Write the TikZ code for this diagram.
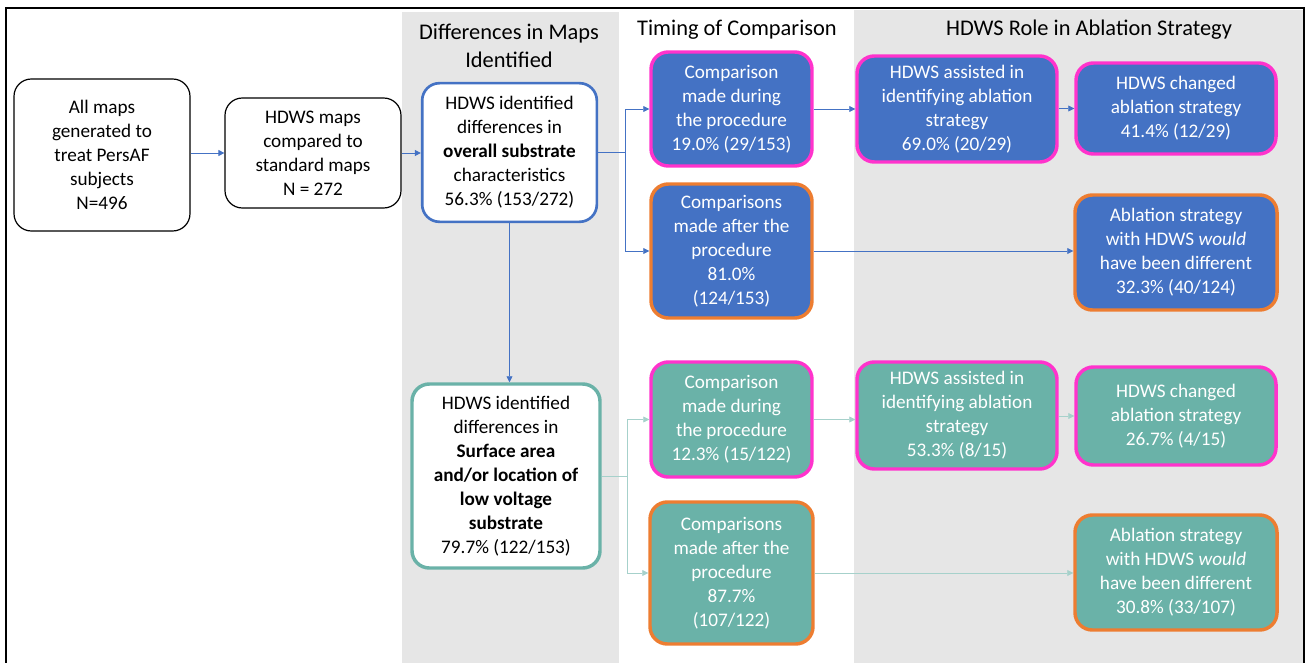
\documentclass[tikz,border=0pt]{standalone}
\usepackage{fontspec}
\setmainfont{Carlito}
\usetikzlibrary{arrows.meta}

\definecolor{hdblue}{RGB}{68,114,196}
\definecolor{hdteal}{RGB}{106,178,168}
\definecolor{hdpink}{RGB}{255,51,204}
\definecolor{hdorange}{RGB}{237,125,49}
\definecolor{hdgray}{RGB}{230,230,230}

\tikzset{every picture/.style={line width=0.75pt},
  box/.style={rectangle, rounded corners=13pt, align=center, inner sep=0pt,
    font=\fontsize{14.4}{18}\selectfont},
  plainbox/.style={box, draw=black, line width=0.9pt, fill=white},
  bluebox/.style={box, fill=hdblue, text=white, line width=2.6pt},
  tealbox/.style={box, fill=hdteal, text=white, line width=2.6pt},
  heading/.style={align=center, inner sep=0pt, font=\fontsize{16.8}{20.5}\selectfont},
  blueline/.style={draw=hdblue, line width=0.6pt},
  tealline/.style={draw=hdteal!60, line width=0.6pt},
  tip/.style={-{Triangle[length=4.5pt,width=4.5pt]}}}

\begin{document}
\begin{tikzpicture}[x=0.75pt,y=0.75pt,yscale=-1,xscale=1]
\useasboundingbox (0,0) rectangle (1306,663);
%Shape: Rectangle [id:bands]
\fill [hdgray] (402,12) rectangle (619,663);
\fill [hdgray] (854,10) rectangle (1304,663);
%Straight Lines [id:frame]
\draw [line width=0.9pt] (6,663) -- (6,8) -- (1304,8) -- (1304,663);
% Text Node
\node [heading] (h1) at (509,46) {Differences in Maps\\Identified};
% Text Node
\node [heading] (h2) at (737,30) {Timing of Comparison};
% Text Node
\node [heading] (h3) at (1089,30) {HDWS Role in Ablation Strategy};
% Text Node
\node [plainbox, minimum width=132pt, minimum height=114pt] (all) at (102,155)
  {All maps\\generated to\\treat PersAF\\subjects\\N=496};
% Text Node
\node [plainbox, minimum width=132pt, minimum height=82.5pt] (cmp) at (313,153)
  {HDWS maps\\compared to\\standard maps\\N = 272};
% Text Node
\node [box, draw=hdblue, fill=white, line width=2pt, minimum width=131pt, minimum height=104pt] (ovr) at (509.5,152.5)
  {HDWS identified\\differences in\\\textbf{overall substrate}\\characteristics\\56.3\% (153/272)};
% Text Node
\node [box, draw=hdteal, fill=white, line width=2.6pt, minimum width=141pt, minimum height=138pt] (srf) at (506,476)
  {HDWS identified\\differences in\\\textbf{Surface area}\\\textbf{and/or location of}\\\textbf{low voltage}\\\textbf{substrate}\\79.7\% (122/153)};
% Text Node
\node [bluebox, draw=hdpink, minimum width=120.75pt, minimum height=85.5pt] (odur) at (731.5,109)
  {Comparison\\made during\\the procedure\\19.0\% (29/153)};
% Text Node
\node [bluebox, draw=hdorange, minimum width=120.75pt, minimum height=100.5pt] (oaft) at (731.5,251)
  {Comparisons\\made after the\\procedure\\81.0\%\\(124/153)};
% Text Node
\node [bluebox, draw=hdpink, minimum width=150pt, minimum height=79.5pt] (oasst) at (957,109)
  {HDWS assisted in\\identifying ablation\\strategy\\69.0\% (20/29)};
% Text Node
\node [bluebox, draw=hdpink, minimum width=150pt, minimum height=68.25pt] (ochg) at (1176,108.5)
  {HDWS changed\\ablation strategy\\41.4\% (12/29)};
% Text Node
\node [bluebox, draw=hdorange, minimum width=151.5pt, minimum height=86.25pt] (owld) at (1176,252.5)
  {Ablation strategy\\with HDWS \textit{would}\\have been different\\32.3\% (40/124)};
% Text Node
\node [tealbox, draw=hdpink, minimum width=120.75pt, minimum height=86.25pt] (sdur) at (731.5,419.5)
  {Comparison\\made during\\the procedure\\12.3\% (15/122)};
% Text Node
\node [tealbox, draw=hdorange, minimum width=122.25pt, minimum height=106.5pt] (saft) at (731.5,573)
  {Comparisons\\made after the\\procedure\\87.7\%\\(107/122)};
% Text Node
\node [tealbox, draw=hdpink, minimum width=150pt, minimum height=80.25pt] (sasst) at (957,415.5)
  {HDWS assisted in\\identifying ablation\\strategy\\53.3\% (8/15)};
% Text Node
\node [tealbox, draw=hdpink, minimum width=150pt, minimum height=73.5pt] (schg) at (1176,416)
  {HDWS changed\\ablation strategy\\26.7\% (4/15)};
% Text Node
\node [tealbox, draw=hdorange, minimum width=151.5pt, minimum height=86.25pt] (swld) at (1176,572.5)
  {Ablation strategy\\with HDWS \textit{would}\\have been different\\30.8\% (33/107)};
%Straight Lines [id:blue]
\draw [blueline, tip] (all.east |- cmp.west) -- (cmp.west);
\draw [blueline, tip] (cmp.east) -- (ovr.west |- cmp.east);
\draw [blueline] (ovr.east) -- ++(27,0) coordinate (ob);
\draw [blueline, tip] (ob) |- (odur.west);
\draw [blueline, tip] (ob) |- (oaft.west);
\draw [blueline, tip] (odur) -- (oasst);
\draw [blueline, tip] (oasst.east |- ochg.west) -- (ochg.west);
\draw [blueline, tip] (oaft) -- (owld.west |- oaft.east);
\draw [blueline, tip] (ovr.south) -- (ovr.south |- srf.north);
%Straight Lines [id:teal]
\draw [tealline] (srf.east) -- ++(26,0) coordinate (sb);
\draw [tealline, tip] (sb) |- (sdur.west);
\draw [tealline, tip] (sb) |- (saft.west);
\draw [tealline, tip] (sdur.east) -- (sasst.west |- sdur.east);
\draw [tealline, tip] (sasst.east |- schg.west) -- (schg.west);
\draw [tealline, tip] (saft) -- (swld.west |- saft.east);

\end{tikzpicture}
\end{document}
